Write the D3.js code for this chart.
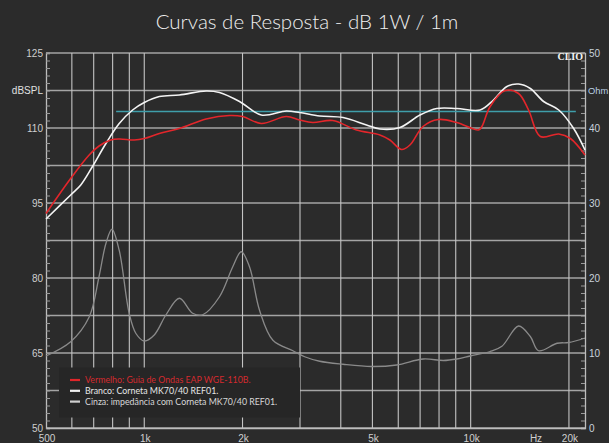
<!DOCTYPE html>
<html>
<head>
<meta charset="utf-8">
<script src="https://cdn.jsdelivr.net/npm/d3@7"></script>
<style>
  body { margin: 0; background: #2b2b2b; }
  svg { display: block; }
</style>
</head>
<body>
<div id="chart"></div>
<script>
// Curvas de resposta (CLIO)

// eixo X (Hz)
const freqGrid = [600, 700, 800, 900, 1000, 2000, 3000, 4000, 5000, 6000, 7000, 8000, 9000, 10000, 20000];
const freqLabels = [[500, '500'], [1000, '1k'], [2000, '2k'], [5000, '5k'], [10000, '10k'], [20000, '20k']];

// eixo Y esquerdo (dBSPL) e direito (Ohm)
const dbGrid = [50, 57.5, 65, 72.5, 80, 87.5, 95, 102.5, 110, 117.5, 125];
const dbLabels = [125, 110, 95, 80, 65, 50];
const ohmLabels = [50, 40, 30, 20, 10, 0];

// Vermelho: Guia de Ondas EAP WGE-110B
const redFreq = [500, 595, 678, 727, 790, 838, 932, 1000, 1112, 1281, 1547, 1824, 2000, 2283, 2724, 2993, 3281, 3779, 4469, 5271, 5657, 6143, 6515, 7144, 7961, 9068, 10563, 10822, 11472, 12756, 14018, 15043, 16345, 18612, 20210, 22400];
const redDb = [92.9, 99.9, 104.6, 106.4, 107.6, 107.8, 107.6, 107.9, 108.9, 109.9, 111.8, 112.5, 112.3, 110.9, 112.3, 111.6, 111.1, 111.5, 109.6, 108.6, 107.6, 105.7, 106.6, 110.3, 111.7, 111.1, 109.6, 110.3, 114.3, 117.5, 116.9, 113.6, 108.3, 108.8, 107.9, 104.6];

// Branco: Corneta MK70/40 REF01
const whiteFreq = [500, 595, 639, 694, 763, 838, 921, 1000, 1112, 1281, 1547, 1700, 1958, 2283, 2724, 2993, 3448, 4065, 4797, 5271, 6071, 6993, 7871, 9068, 10690, 11745, 12913, 14018, 15231, 16729, 18612, 20679, 22400];
const whiteDb = [91.8, 96.6, 98.6, 102.3, 106.9, 110.9, 113.6, 115.1, 116.3, 116.6, 117.4, 117.1, 115.3, 112.6, 113.4, 113.1, 112.4, 112.1, 110.6, 109.8, 110.1, 112.6, 113.9, 113.9, 113.6, 115.6, 118.3, 118.8, 117.9, 115.3, 113.6, 109.9, 105.6];

// Cinza: impedância (Ohm)
const grayFreq = [500, 595, 678, 727, 763, 796, 838, 899, 943, 1000, 1073, 1166, 1281, 1407, 1510, 1700, 1867, 1982, 2101, 2255, 2478, 2854, 3100, 3448, 4065, 4970, 5930, 7159, 8249, 9068, 9960, 11472, 12465, 14018, 15231, 16145, 18394, 19962, 22400];
const grayOhm = [9.6, 11.5, 14.8, 20.2, 24.6, 26.5, 23.7, 15.3, 12.6, 11.6, 12.4, 15.1, 17.3, 15.3, 15.1, 17.5, 21.5, 23.5, 21.5, 15.7, 11.7, 10.3, 9.5, 8.9, 8.5, 8.2, 8.4, 9.2, 9.0, 9.2, 9.6, 10.2, 10.9, 13.6, 12.2, 10.3, 11.3, 11.4, 12.0];

// linha de referência (ciano)
const refFreq = [820, 21000];
const refDb = [113.3, 113.3];

const legendItems = [
    ['Vermelho: Guia de Ondas EAP WGE-110B.', '#e0262a', '#d42a2e'],
    ['Branco: Corneta MK70/40 REF01.', '#f2f2f2', '#e6e6e6'],
    ['Cinza: impedância com Corneta MK70/40 REF01.', '#cfcfcf', '#d8d8d8']
];

const width = 609, height = 443;
const margin = { top: 53, bottom: 15, left: 46, right: 24 };

const svg = d3.select('#chart')
    .append('svg')
    .attr('width', width)
    .attr('height', height);

svg.append('rect')
    .attr('width', width)
    .attr('height', height)
    .attr('fill', '#2b2b2b');

const x = d3.scaleLog()
    .domain([500, 22400])
    .range([margin.left, width - margin.right]);
const yDb = d3.scaleLinear()
    .domain([50, 125])
    .range([height - margin.bottom, margin.top]);
const yOhm = d3.scaleLinear()
    .domain([0, 50])
    .range([height - margin.bottom, margin.top]);

// título
svg.append('text')
    .attr('x', 307)
    .attr('y', 29)
    .attr('text-anchor', 'middle')
    .attr('fill', '#f0f0f0')
    .style('font-family', 'Lato, "Noto Sans", sans-serif')
    .style('font-weight', 300)
    .style('font-size', '20.5px')
    .text('Curvas de Resposta - dB 1W / 1m');

// grade
const grid = svg.append('g');
grid.selectAll('line.h')
    .data(dbGrid)
    .join('line')
    .attr('class', 'h')
    .attr('x1', x.range()[0])
    .attr('x2', x.range()[1])
    .attr('y1', d => yDb(d))
    .attr('y2', d => yDb(d))
    .attr('stroke', '#a4a4a4')
    .attr('stroke-width', 1.4);

grid.selectAll('line.v')
    .data(freqGrid)
    .join('line')
    .attr('class', 'v')
    .attr('x1', d => x(d))
    .attr('x2', d => x(d))
    .attr('y1', yDb.range()[0])
    .attr('y2', yDb.range()[1])
    .attr('stroke', '#c4c4c4')
    .attr('stroke-width', 1.1);

// legenda (por cima da grade)
const legend = svg.append('g');
legend.append('rect')
    .attr('x', 59)
    .attr('y', 367.5)
    .attr('width', 241)
    .attr('height', 50)
    .attr('fill', '#262626');

legendItems.forEach(([label, mark, color], i) => {
    const ly = 380 + i * 10.8;
    legend.append('line')
        .attr('x1', 70).attr('x2', 80)
        .attr('y1', ly).attr('y2', ly)
        .attr('stroke', mark)
        .attr('stroke-width', 2.2);
    legend.append('text')
        .attr('x', 85)
        .attr('y', ly)
        .attr('dy', '0.35em')
        .attr('fill', color)
        .style('font-family', 'Lato, "Noto Sans", sans-serif')
        .style('font-size', '8.8px')
        .text(label);
});

// eixos
const axisColor = '#bdbdbd';
const minorDb = d3.range(50, 125.01, 1.5);

const leftAxis = svg.append('g')
    .attr('transform', `translate(${margin.left},0)`)
    .call(d3.axisRight(yDb).tickValues(minorDb).tickSize(4).tickFormat(''));
const rightAxis = svg.append('g')
    .attr('transform', `translate(${width - margin.right},0)`)
    .call(d3.axisLeft(yDb).tickValues(minorDb).tickSize(4).tickFormat(''));
const bottomAxis = svg.append('g')
    .attr('transform', `translate(0,${height - margin.bottom})`)
    .call(d3.axisBottom(x).tickValues([]).tickSize(0).tickSizeOuter(0));

[leftAxis, rightAxis, bottomAxis].forEach(a => {
    a.selectAll('path.domain').attr('stroke', axisColor).attr('stroke-width', 1.3);
    a.selectAll('.tick line').attr('stroke', '#9a9a9a');
});

const labelFont = '"Liberation Sans", Arial, sans-serif';

svg.append('g')
    .selectAll('text')
    .data(dbLabels)
    .join('text')
    .attr('x', 43)
    .attr('y', d => yDb(d))
    .attr('dy', '0.35em')
    .attr('text-anchor', 'end')
    .attr('fill', '#cfcfcf')
    .style('font-family', labelFont)
    .style('font-size', '10px')
    .text(d => d);

svg.append('text')
    .attr('x', 43)
    .attr('y', yDb(117.5))
    .attr('dy', '0.35em')
    .attr('text-anchor', 'end')
    .attr('fill', '#e0e0e0')
    .style('font-family', labelFont)
    .style('font-size', '10px')
    .text('dBSPL');

svg.append('g')
    .selectAll('text')
    .data(ohmLabels)
    .join('text')
    .attr('x', 589)
    .attr('y', d => yOhm(d))
    .attr('dy', '0.35em')
    .attr('fill', '#c9d2dc')
    .style('font-family', labelFont)
    .style('font-size', '10px')
    .text(d => d);

svg.append('text')
    .attr('x', 588)
    .attr('y', yOhm(45))
    .attr('dy', '0.35em')
    .attr('fill', '#b9cfe2')
    .style('font-family', labelFont)
    .style('font-size', '9.4px')
    .text('Ohm');

svg.append('g')
    .selectAll('text')
    .data(freqLabels)
    .join('text')
    .attr('x', d => x(d[0]) + 1)
    .attr('y', 438)
    .attr('dy', '0.35em')
    .attr('text-anchor', 'middle')
    .attr('fill', '#d0d0d0')
    .style('font-family', labelFont)
    .style('font-size', '10px')
    .text(d => d[1]);

svg.append('text')
    .attr('x', 536)
    .attr('y', 438)
    .attr('dy', '0.35em')
    .attr('text-anchor', 'middle')
    .attr('fill', '#d0d0d0')
    .style('font-family', labelFont)
    .style('font-size', '10px')
    .text('Hz');

// logo CLIO
svg.append('text')
    .attr('x', 583)
    .attr('y', 60)
    .attr('text-anchor', 'end')
    .attr('fill', '#f4f4f4')
    .style('font-family', '"Liberation Serif", "DejaVu Serif", serif')
    .style('font-weight', 'bold')
    .style('font-size', '10px')
    .text('CLIO');

// curvas
const curves = svg.append('g');
const dbLine = d3.line()
    .x(d => x(d[0]))
    .y(d => yDb(d[1]))
    .curve(d3.curveCatmullRom.alpha(0.5));
const ohmLine = d3.line()
    .x(d => x(d[0]))
    .y(d => yOhm(d[1]))
    .curve(d3.curveCatmullRom.alpha(0.5));

curves.append('path')
    .datum(d3.zip(grayFreq, grayOhm))
    .attr('d', ohmLine)
    .attr('fill', 'none')
    .attr('stroke', '#8a8a8a')
    .attr('stroke-width', 1.3);

curves.append('path')
    .datum(d3.zip(refFreq, refDb))
    .attr('d', dbLine)
    .attr('fill', 'none')
    .attr('stroke', '#3f9eaa')
    .attr('stroke-width', 1.3);

curves.append('path')
    .datum(d3.zip(whiteFreq, whiteDb))
    .attr('d', dbLine)
    .attr('fill', 'none')
    .attr('stroke', '#f4f4f4')
    .attr('stroke-width', 1.6);

curves.append('path')
    .datum(d3.zip(redFreq, redDb))
    .attr('d', dbLine)
    .attr('fill', 'none')
    .attr('stroke', '#e3262b')
    .attr('stroke-width', 1.6);
</script>
</body>
</html>
